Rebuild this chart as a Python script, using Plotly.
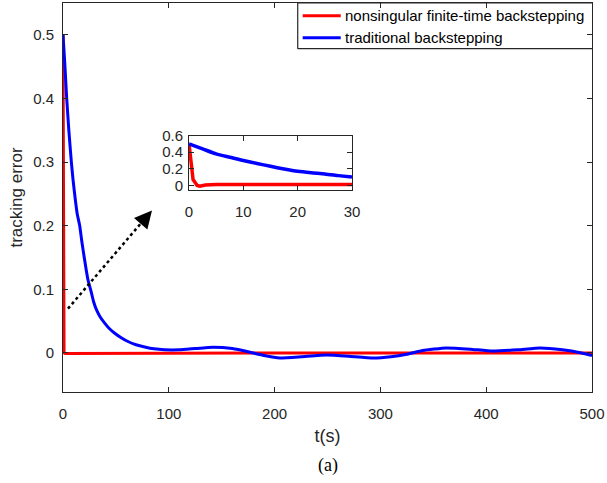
import plotly.graph_objects as go

# ---- data ----
t_blue = [0, 1.5, 3.5, 5.5, 7.9, 9.5, 11.7, 13.5, 15.8, 17.8, 19.9, 21.8, 23.6, 26.8, 29, 31.6,
          35, 39.4, 44, 48.9, 55, 61.4, 69, 77.2, 86, 96, 110, 125, 142, 160, 175,
          190, 205, 225, 249, 270, 293, 310, 325, 340, 362, 385, 406, 430, 451, 472, 490, 500]
v_blue = [0.5, 0.46, 0.4, 0.35, 0.3, 0.272, 0.24, 0.218, 0.2, 0.175, 0.152, 0.132, 0.115, 0.095,
          0.08, 0.068, 0.057, 0.047, 0.038, 0.031, 0.024, 0.018, 0.013, 0.0094, 0.0065, 0.005,
          0.005, 0.007, 0.009, 0.007, 0.002, -0.004, -0.008, -0.006, -0.003, -0.005,
          -0.008, -0.006, -0.002, 0.004, 0.008, 0.006, 0.003, 0.005, 0.008, 0.005, 0.0, -0.004]
t_red = [0, 1, 2, 100, 200, 300, 400, 500]
v_red = [0.5, 0.0, -0.001, 0.0, 0.0, 0.0, 0.0, 0.0]

# inset (zoom of first 30 s)
t_blue_in = [0, 2.5, 5, 7.5, 10, 12.5, 15, 17.5, 20, 22.5, 25, 27.5, 30]
v_blue_in = [0.5, 0.44, 0.38, 0.34, 0.30, 0.265, 0.23, 0.198, 0.17, 0.152, 0.138, 0.118, 0.10]
t_red_in = [0, 0.75, 1.5, 2, 3, 5, 30]
v_red_in = [0.5, 0.07, 0.0, -0.01, 0.005, 0.01, 0.01]

series_names = ["nonsingular finite-time backstepping", "traditional backstepping"]

x_ticks = [0, 100, 200, 300, 400, 500]
y_ticks = [0, 0.1, 0.2, 0.3, 0.4, 0.5]
x_ticks_in = [0, 10, 20, 30]
y_ticks_in = [0, 0.2, 0.4, 0.6]

arrow_start = (4.7, 0.0696)
arrow_tip = (84.1, 0.224)

RED = "#FF0000"
BLUE = "#0000FF"
AX = "#262626"
FONT = "Liberation Sans, Arial, sans-serif"
colors = [RED, BLUE]

fig = go.Figure()
fig.add_trace(go.Scatter(x=t_red, y=v_red, mode="lines", name=series_names[0], showlegend=False,
                         line=dict(color=RED, width=3)))
fig.add_trace(go.Scatter(x=t_blue, y=v_blue, mode="lines", name=series_names[1], showlegend=False,
                         line=dict(color=BLUE, width=3, shape="spline", smoothing=0.4)))
fig.add_trace(go.Scatter(x=t_red_in, y=v_red_in, mode="lines", showlegend=False,
                         line=dict(color=RED, width=3.5), xaxis="x2", yaxis="y2"))
fig.add_trace(go.Scatter(x=t_blue_in, y=v_blue_in, mode="lines", showlegend=False,
                         line=dict(color=BLUE, width=3.5, shape="spline", smoothing=0.6),
                         xaxis="x2", yaxis="y2"))

axis_common = dict(showline=True, linecolor=AX, linewidth=1, mirror="ticks", ticks="inside",
                   tickcolor=AX, ticklen=5, showgrid=False, zeroline=False, automargin=False,
                   tickfont=dict(family=FONT, size=15, color=AX))

# dotted line of the arrow
fig.add_shape(type="line", x0=arrow_start[0], y0=arrow_start[1],
              x1=arrow_start[0] + 0.88 * (arrow_tip[0] - arrow_start[0]),
              y1=arrow_start[1] + 0.88 * (arrow_tip[1] - arrow_start[1]),
              xref="x", yref="y", line=dict(color="black", width=2.5, dash="dot"))

fig.add_annotation(x=arrow_tip[0], y=arrow_tip[1], xref="x", yref="y", ax=-11, ay=13,
                   axref="pixel", ayref="pixel", text="", showarrow=True,
                   arrowhead=2, arrowsize=1.4, arrowwidth=2.5, arrowcolor="black")

# legend frame (left and bottom edges; top/right coincide with the axes box)
LX0, LX1, LY0, LY1 = 0.4437, 1.0, 0.8825, 1.0
fig.add_shape(type="line", xref="paper", yref="paper", x0=LX0, x1=LX0, y0=LY0, y1=LY1,
              line=dict(color=AX, width=1.2), layer="above")
fig.add_shape(type="line", xref="paper", yref="paper", x0=LX0, x1=LX1, y0=LY0, y1=LY0,
              line=dict(color=AX, width=1.2), layer="above")
fig.add_shape(type="line", xref="paper", yref="paper", x0=LX0, x1=LX1, y0=LY1, y1=LY1,
              line=dict(color=AX, width=1), layer="above")
legend_y = [0.9674, 0.9109]
for name, col, ly in zip(series_names, colors, legend_y):
    fig.add_shape(type="line", xref="paper", yref="paper", x0=0.4531, x1=0.5250, y0=ly, y1=ly,
                  line=dict(color=col, width=3), layer="above")
    fig.add_annotation(x=0.5290, y=ly, xref="paper", yref="paper", text=name, showarrow=False,
                       xanchor="left", yanchor="middle",
                       font=dict(family=FONT, size=15, color="black"))

fig.add_annotation(x=0.5, y=-0.19, xref="paper", yref="paper", text="(a)", showarrow=False,
                   font=dict(family="Liberation Serif, Times New Roman, serif", size=18, color="black"),
                   yanchor="middle")

fig.update_layout(
    width=607, height=483,
    margin=dict(l=63, r=15, t=3, b=91, autoexpand=False),
    paper_bgcolor="white", plot_bgcolor="white",
    font=dict(family=FONT, color=AX),
    showlegend=False,
    xaxis=dict(range=[0, 500], tickvals=x_ticks, ticklabelstandoff=8,
               title=dict(text="t(s)", font=dict(family=FONT, size=18, color=AX), standoff=8),
               **axis_common),
    yaxis=dict(range=[-0.0613, 0.5498], tickvals=y_ticks, ticktext=["0", "0.1", "0.2", "0.3", "0.4", "0.5"],
               ticklabelstandoff=5,
               title=dict(text="tracking error", font=dict(family=FONT, size=17, color=AX), standoff=6),
               **axis_common),
    xaxis2=dict(domain=[0.2382, 0.5463], anchor="y2", range=[0, 30], tickvals=x_ticks_in,
                ticklabelstandoff=8, **axis_common),
    yaxis2=dict(domain=[0.520, 0.659], anchor="x2", range=[-0.052, 0.6], tickvals=y_ticks_in,
                ticktext=["0", "0.2", "0.4", "0.6"], ticklabelstandoff=2, **axis_common),
)

fig.write_html("out.html", config={"displayModeBar": False},
               post_script="document.body.style.margin='0';")
